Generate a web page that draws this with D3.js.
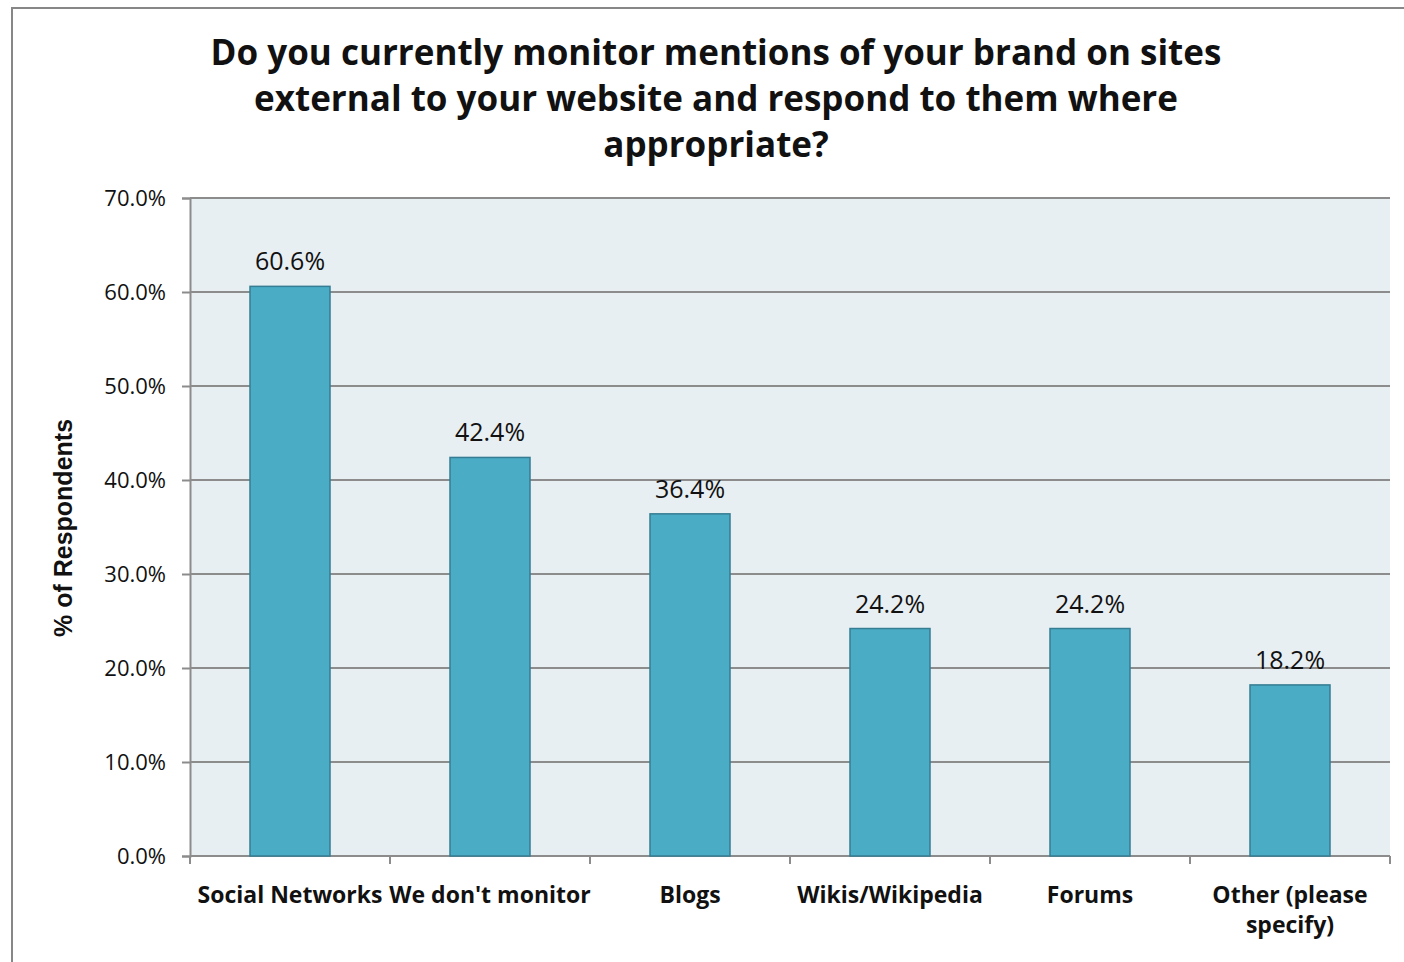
<!DOCTYPE html>
<html>
<head>
<meta charset="utf-8">
<script src="https://cdn.jsdelivr.net/npm/d3@7"></script>
<style>
  html, body { margin: 0; padding: 0; background: #fff; }
  svg { display: block; }
</style>
</head>
<body>
<svg id="chart" width="1404" height="962"></svg>
<script>
// Survey responses: brand-mention monitoring by site type
const categories = ["Social Networks", "We don't monitor", "Blogs", "Wikis/Wikipedia", "Forums", "Other (please specify)"];
const values = [60.6, 42.4, 36.4, 24.2, 24.2, 18.2];
const yTicks = [0, 10, 20, 30, 40, 50, 60, 70];
const titleLines = [
  "Do you currently monitor mentions of your brand on sites",
  "external to your website and respond to them where",
  "appropriate?"
];
const yLabel = "% of Respondents";

const svg = d3.select("#chart");
const plot = { left: 190, right: 1390, top: 198, bottom: 856 };
const geo = "'Century Gothic', 'URW Gothic', 'Open Sans', sans-serif";

// Outer frame (only left and top edges are within view)
svg.append("rect")
  .attr("x", 12).attr("y", 8)
  .attr("width", 1420).attr("height", 1000)
  .attr("fill", "#fff").attr("stroke", "#878787").attr("stroke-width", 2);

const x = d3.scaleBand().domain(categories).range([plot.left, plot.right]).padding(0);
const y = d3.scaleLinear().domain([0, 70]).range([plot.bottom, plot.top]);

// Plot background
svg.append("rect")
  .attr("x", plot.left).attr("y", plot.top)
  .attr("width", plot.right - plot.left).attr("height", plot.bottom - plot.top)
  .attr("fill", "#E8EFF3");

// Gridlines
svg.append("g").selectAll("line").data(yTicks.slice(1)).join("line")
  .attr("x1", plot.left).attr("x2", plot.right)
  .attr("y1", d => y(d)).attr("y2", d => y(d))
  .attr("stroke", "#8C8C8C").attr("stroke-width", 2);

// Y axis
const yAxis = svg.append("g")
  .attr("transform", `translate(${plot.left},0)`)
  .call(d3.axisLeft(y).tickValues(yTicks).tickSize(8).tickPadding(16).tickFormat(d => d.toFixed(1) + "%"));
yAxis.select(".domain").attr("stroke", "#8C8C8C").attr("stroke-width", 2);
yAxis.selectAll(".tick line").attr("stroke", "#8C8C8C").attr("stroke-width", 2);
yAxis.selectAll(".tick text")
  .attr("font-family", geo).attr("font-size", 22).attr("fill", "#111");

// X axis with ticks at band boundaries
const xAxis = svg.append("g").attr("transform", `translate(0,${plot.bottom})`);
xAxis.append("line")
  .attr("x1", plot.left).attr("x2", plot.right)
  .attr("stroke", "#8C8C8C").attr("stroke-width", 2);
const boundaries = categories.map(c => x(c)).concat([x(categories[categories.length - 1]) + x.bandwidth()]);
xAxis.selectAll("line.tk").data(boundaries).join("line").attr("class", "tk")
  .attr("x1", d => d).attr("x2", d => d).attr("y1", 0).attr("y2", 8)
  .attr("stroke", "#8C8C8C").attr("stroke-width", 2);

// Bars
const barW = x.bandwidth() * 0.4;
svg.append("g").selectAll("rect").data(values).join("rect")
  .attr("x", (d, i) => x(categories[i]) + (x.bandwidth() - barW) / 2)
  .attr("y", d => y(d))
  .attr("width", barW)
  .attr("height", d => y(0) - y(d))
  .attr("fill", "#4BACC6")
  .attr("stroke", "#357D92").attr("stroke-width", 1.5);

// Value labels
svg.append("g").selectAll("text").data(values).join("text")
  .attr("x", (d, i) => x(categories[i]) + x.bandwidth() / 2)
  .attr("y", d => y(d) - 16)
  .attr("text-anchor", "middle")
  .attr("font-family", geo).attr("font-size", 25).attr("fill", "#111")
  .text(d => d.toFixed(1) + "%");

// Category labels (wrap the long one onto two lines)
const catLines = { "Other (please specify)": ["Other (please", "specify)"] };
const catG = svg.append("g");
categories.forEach(c => {
  const lines = catLines[c] || [c];
  const t = catG.append("text")
    .attr("x", x(c) + x.bandwidth() / 2)
    .attr("y", 903)
    .attr("text-anchor", "middle")
    .attr("font-family", geo).attr("font-weight", "bold").attr("font-size", 23).attr("fill", "#111");
  lines.forEach((l, i) => t.append("tspan")
    .attr("x", x(c) + x.bandwidth() / 2).attr("dy", i === 0 ? 0 : 30).text(l));
});

// Y axis title
svg.append("text")
  .attr("transform", `translate(72,528) rotate(-90)`)
  .attr("text-anchor", "middle")
  .attr("font-family", "'Liberation Sans', Arial, sans-serif").attr("font-weight", "bold")
  .attr("font-size", 25).attr("fill", "#111")
  .text(yLabel);

// Chart title
const title = svg.append("text")
  .attr("text-anchor", "middle")
  .attr("font-family", geo).attr("font-weight", "bold").attr("font-size", 35).attr("fill", "#111");
titleLines.forEach((l, i) => title.append("tspan")
  .attr("x", 716).attr("y", 65 + i * 46).text(l));
</script>
</body>
</html>
